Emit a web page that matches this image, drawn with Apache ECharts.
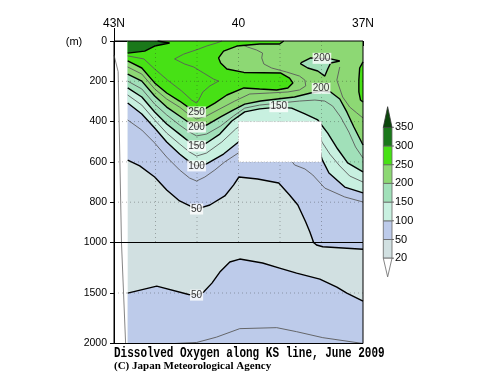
<!DOCTYPE html>
<html><head><meta charset="utf-8">
<script src="https://cdn.jsdelivr.net/npm/echarts@6/dist/echarts.min.js"></script>
<style>html,body{margin:0;padding:0;background:#fff}#c{width:500px;height:387px}</style>
</head><body><div id="c"></div>
<script>
// ---------- axes ----------
const latTicks = [43, 42, 41, 40, 39, 38, 37];
const latLabels = {43: '43N', 40: '40', 37: '37N'};
const depthGridUpper = [200, 400, 600, 800];
const depthGridLower = [1500];
const westLat = 42.67;          // western edge of observed section
const gapLat = [40, 38];        // missing-data box
const gapDepth = [400, 600];

// ---------- contour lines [lat, depth m] ----------
const c300 = [[41.95,0],[41.66,10],[42.02,25],[42.26,50],[42.67,60]];
const c275 = [[40.40,0],[40.53,10],[40.77,25],[40.96,40],[41.32,65],[41.54,89],[41.30,114],[41.08,129],[40.84,159],[40.60,189],[40.48,199],[40.69,223],[40.86,253],[40.96,293],[41.01,308],[41.13,293],[41.37,248],[41.71,194],[42.02,139],[42.28,89],[42.67,74]];
const c250 = [[38.91,0],[39.01,15],[39.49,15],[40.04,25],[40.36,50],[40.48,84],[40.43,109],[40.28,139],[39.87,156],[38.98,159],[38.77,184],[38.69,208],[38.81,233],[39.08,243],[39.49,238],[39.87,233],[40.28,268],[40.57,308],[40.81,337],[41.01,352],[41.18,333],[41.42,298],[41.73,258],[42.02,208],[42.33,134],[42.67,99]];
const c250East = [[37.00,104],[37.08,134],[37.10,194],[37.10,253],[37.06,293],[37.00,303]];
const c225 = [[42.67,129],[42.33,164],[42.02,238],[41.73,288],[41.42,328],[41.18,367],[41.01,387],[40.77,372],[40.45,337],[40.09,298],[39.73,263],[39.25,258],[38.81,253],[38.53,243],[38.38,223],[38.40,194],[38.53,174],[38.84,154],[39.20,134],[39.39,114],[39.44,84],[39.42,60],[39.56,45],[39.78,30],[39.90,20]];
const c225East = [[37.56,129],[37.63,194],[37.49,278],[37.32,328],[37.15,357],[37.00,382]];
const c200 = [[42.67,164],[42.33,199],[42.02,273],[41.73,328],[41.42,372],[41.18,407],[41.01,427],[40.77,417],[40.43,377],[40.12,342],[39.85,313],[39.47,298],[39.06,288],[38.65,278],[38.26,258],[38.01,248],[37.78,253],[37.56,288],[37.39,352],[37.22,427],[37.00,516]];
const c200Island = [[38.50,109],[38.26,84],[37.78,89],[37.56,99],[37.78,109],[37.85,139],[37.92,174],[38.09,149],[38.33,134],[38.50,114],[38.50,109]];
const c175 = [[42.67,199],[42.33,238],[42.02,313],[41.73,367],[41.42,417],[41.18,452],[41.01,471],[40.77,462],[40.43,422],[40.12,372],[39.85,333],[39.49,318],[39.01,308],[38.53,298],[38.16,293],[37.92,298],[37.73,323],[37.54,377],[37.34,452],[37.18,526],[37.00,581]];
const c150 = [[42.67,233],[42.33,278],[42.02,352],[41.73,412],[41.42,462],[41.18,501],[41.01,521],[40.77,506],[40.45,462],[40.16,397],[39.85,352],[39.49,337],[39.03,328],[38.72,333],[38.40,362],[38.09,392],[37.85,457],[37.61,536],[37.37,605],[37.00,650]];
const c125 = [[42.67,268],[42.33,318],[42.02,392],[41.73,457],[41.42,511],[41.18,551],[41.01,571],[40.77,556],[40.40,501],[40.07,437],[39.97,422],[38.09,422],[37.99,501],[37.80,561],[37.56,620],[37.32,670],[37.00,700]];
const c100 = [[42.67,308],[42.33,362],[42.02,432],[41.73,501],[41.42,561],[41.18,600],[41.01,620],[40.77,610],[40.36,561],[40.09,516],[39.97,496],[38.09,496],[37.99,586],[37.82,655],[37.44,725],[37.00,754]];
const c75 = [[42.67,392],[42.33,442],[42.02,506],[41.73,576],[41.42,640],[41.18,680],[41.01,695],[40.81,675],[40.57,640],[40.33,600],[39.97,551],[38.77,581],[38.65,615],[38.40,635],[38.21,665],[37.92,730],[37.44,774],[37.00,799]];
const c50 = [[42.67,591],[42.38,620],[42.02,675],[41.73,739],[41.42,794],[41.01,834],[40.69,814],[40.33,769],[40.12,715],[39.99,675],[39.54,685],[39.03,705],[38.77,764],[38.57,814],[38.38,898],[38.28,948],[38.19,1000],[38.12,1025],[37.97,1042],[37.00,1067]];
const c50Deep = [[42.67,1501],[41.97,1432],[41.20,1515],[41.01,1521],[40.84,1491],[40.64,1402],[40.45,1293],[40.21,1193],[39.97,1164],[39.42,1203],[39.01,1253],[38.60,1303],[38.04,1362],[37.63,1441],[37.39,1501],[37.00,1580]];
const c75Deep = [[41.54,2000],[41.01,1990],[40.53,1937],[39.97,1853],[39.08,1843],[38.60,1883],[37.97,1942],[37.00,2000]];
const bottomLine = [[43.00,70],[42.90,152],[42.82,1000],[42.72,2000]];

// contour labels [lat, depth, text]
const labelsUpper = [[41.01,352,'250'],[41.01,427,'200'],[41.01,521,'150'],[41.01,620,'100'],[41.01,834,'50'],[37.99,86,'200'],[38.01,235,'200'],[39.03,326,'150']];
const labelsLower = [[41.01,1521,'50']];

// colour bar
const cbLevels = [20, 50, 100, 150, 200, 250, 300, 350];
const cbColors = ['#d1e0e1', '#bdcbea', '#c8f0e0', '#a1e0b9', '#8dd874', '#47e115', '#1a781a'];
const cbOver = '#0b470b';

// ---------- helpers ----------
const BOTH = [0, 1];
function poly(pts, fill, grids, z) {
  return grids.map(g => ({
    type: 'custom', coordinateSystem: 'cartesian2d', xAxisIndex: g, yAxisIndex: g,
    silent: true, clip: true, z: z || 1, animation: false, data: [pts[0]],
    renderItem: (p, api) => ({type: 'polygon', shape: {points: pts.map(q => api.coord(q))}, style: {fill: fill}})
  }));
}
function line(pts, color, width, grids, z, dash) {
  return grids.map(g => ({
    type: 'line', xAxisIndex: g, yAxisIndex: g, data: pts, symbol: 'none', silent: true,
    z: z, clip: true, animation: false,
    lineStyle: {color: color, width: width, type: dash || 'solid'}
  }));
}
const rev = a => a.slice().reverse();

const series = [];
// fills
series.push(...poly([[westLat,0],[37,0],[37,2000],[westLat,2000]], cbColors[0], BOTH));
series.push(...poly([[westLat,0],[37,0], ...rev(c50)], cbColors[1], BOTH));
series.push(...poly([...c50Deep,[37,2000],[westLat,2000]], cbColors[1], [1]));
series.push(...poly([[westLat,0],[37,0], ...rev(c100)], cbColors[2], [0]));
series.push(...poly([[westLat,0],[37,0], ...rev(c150)], cbColors[3], [0]));
series.push(...poly([[westLat,0],[37,0], ...rev(c200)], cbColors[4], [0]));
series.push(...poly(c200Island, cbColors[3], [0]));
series.push(...poly([[westLat,0], ...c250], cbColors[5], [0]));
series.push(...poly(c250East, cbColors[5], [0]));
series.push(...poly([[westLat,0], ...c300], cbColors[6], [0]));

// thin contours
const THIN = '#5a5a5a';
[c275, c225, c225East, c175, c125, c75].forEach(c => series.push(...line(c, THIN, 0.9, [0], 2)));
series.push(...line(c75Deep, THIN, 0.9, [1], 2));
series.push(...line(bottomLine, '#777', 0.9, BOTH, 2));
// thick contours
[c300, c250, c250East, c200, c200Island, c150, c100].forEach(c => series.push(...line(c, '#000', 1.4, [0], 3)));
series.push(...line(c50, '#000', 1.4, BOTH, 3));
series.push(...line(c50Deep, '#000', 1.4, [1], 3));

// dotted grid
const DOT = 'rgba(40,40,40,0.35)';
latTicks.slice(1, -1).forEach(l => series.push(...line([[l,0],[l,1000]], DOT, 1, [0], 4, [1, 3])));
depthGridUpper.forEach(d => series.push(...line([[43,d],[37,d]], DOT, 1, [0], 4, [1, 3])));
depthGridLower.forEach(d => series.push(...line([[43,d],[37,d]], DOT, 1, [1], 4, [1, 3])));

// missing-data box
series.push({
  type: 'custom', coordinateSystem: 'cartesian2d', xAxisIndex: 0, yAxisIndex: 0, silent: true, z: 5,
  animation: false, data: [[gapLat[0], gapDepth[0]]],
  renderItem: (p, api) => {
    const a = api.coord([gapLat[0], gapDepth[0]]), b = api.coord([gapLat[1], gapDepth[1]]);
    return {type: 'rect', shape: {x: a[0], y: a[1], width: b[0] - a[0], height: b[1] - a[1]},
      style: {fill: '#fff', stroke: '#bbb', lineWidth: 1, lineDash: [1, 2]}};
  }
});

// labels
function labels(arr, g) {
  return {
    type: 'scatter', xAxisIndex: g, yAxisIndex: g, data: arr, symbolSize: 1, silent: true, z: 6,
    animation: false, itemStyle: {color: 'transparent'},
    label: {show: true, position: 'inside', formatter: p => p.data[2], fontSize: 10,
      fontFamily: 'Liberation Sans', color: '#000', backgroundColor: '#fff', padding: [1, 1, 0, 1]}
  };
}
series.push(labels(labelsUpper, 0), labels(labelsLower, 1));

// frames
[[0, 0, 1000], [1, 1000, 2000]].forEach(([g, d0, d1]) => series.push({
  type: 'custom', coordinateSystem: 'cartesian2d', xAxisIndex: g, yAxisIndex: g, silent: true, z: 7,
  animation: false, data: [[43, d0]],
  renderItem: (p, api) => {
    const a = api.coord([43, d0]), b = api.coord([37, d1]);
    return {type: 'rect', shape: {x: a[0], y: a[1], width: b[0] - a[0], height: b[1] - a[1]},
      style: {fill: null, stroke: '#000', lineWidth: 1}};
  }
}));

// ---------- graphic: colour bar, titles ----------
const CB = {x: 383.3, w: 8.7, top: 127.3, h: 18.7};
const graphic = [];
const nB = cbColors.length;
cbColors.forEach((col, i) => {
  graphic.push({type: 'rect', shape: {x: CB.x, y: CB.top + (nB - 1 - i) * CB.h, width: CB.w, height: CB.h},
    style: {fill: col, stroke: '#666', lineWidth: 0.8}});
});
graphic.push({type: 'polygon', shape: {points: [[CB.x, CB.top], [CB.x + CB.w, CB.top], [CB.x + CB.w / 2, CB.top - 20.6]]},
  style: {fill: cbOver, stroke: '#333', lineWidth: 0.8}});
graphic.push({type: 'polygon', shape: {points: [[CB.x, CB.top + nB * CB.h], [CB.x + CB.w, CB.top + nB * CB.h], [CB.x + CB.w / 2, CB.top + nB * CB.h + 18.7]]},
  style: {fill: '#fff', stroke: '#666', lineWidth: 0.8}});
cbLevels.forEach((lv, j) => {
  const y = CB.top + nB * CB.h - j * CB.h;
  graphic.push({type: 'line', shape: {x1: CB.x + CB.w, y1: y, x2: CB.x + CB.w + 2, y2: y}, style: {stroke: '#444', lineWidth: 0.8}});
  graphic.push({type: 'text', x: 395, y: y,
    style: {text: String(lv), fill: '#000', font: '11px "Liberation Sans"', align: 'left', verticalAlign: 'middle', textAlign: 'left', textVerticalAlign: 'middle'}});
});
graphic.push({type: 'text', x: 74, y: 42,
  style: {text: '(m)', fill: '#000', font: '11px "Liberation Sans"', align: 'center', verticalAlign: 'middle', textAlign: 'center', textVerticalAlign: 'middle'}});
graphic.push({type: 'line', shape: {x1: 114.5, y1: 28, x2: 114.5, y2: 41}, style: {stroke: '#000', lineWidth: 1}});
graphic.push({type: 'text', x: 114, y: 353, scaleY: 1.3,
  style: {text: 'Dissolved Oxygen along KS line, June 2009', fill: '#000', font: 'bold 11px "Liberation Mono"', align: 'left', verticalAlign: 'middle', textAlign: 'left', textVerticalAlign: 'middle'}});
graphic.push({type: 'text', x: 114, y: 366,
  style: {text: '(C) Japan Meteorological Agency', fill: '#000', font: 'bold 11px "Liberation Serif"', align: 'left', verticalAlign: 'middle', textAlign: 'left', textVerticalAlign: 'middle'}});

const yLab = {fontSize: 10.5, color: '#000', margin: 7, fontFamily: 'Liberation Sans', formatter: v => String(v)};
const option = {
  animation: false,
  backgroundColor: '#fff',
  grid: [
    {left: 114, top: 41, width: 249, height: 201.5, show: false},
    {left: 114, top: 242.5, width: 249, height: 101, show: false}
  ],
  xAxis: [
    {gridIndex: 0, type: 'value', min: 37, max: 43, interval: 1, inverse: true, position: 'top', offset: 13,
      axisLine: {show: true, lineStyle: {color: '#000', width: 1}},
      axisTick: {show: true, inside: true, length: 5, lineStyle: {color: '#000'}},
      minorTick: {show: true, splitNumber: 3, length: 5, lineStyle: {color: '#000'}},
      axisLabel: {formatter: v => latLabels[v] || '', fontSize: 12, margin: -2, color: '#000', fontFamily: 'Liberation Sans'},
      splitLine: {show: false}},
    {gridIndex: 1, type: 'value', min: 37, max: 43, inverse: true, show: false}
  ],
  yAxis: [
    {gridIndex: 0, type: 'value', min: 0, max: 1000, interval: 200, inverse: true,
      axisLine: {show: true, lineStyle: {color: '#000'}},
      axisTick: {show: true, length: 4, lineStyle: {color: '#000'}},
      axisLabel: yLab, splitLine: {show: false}},
    {gridIndex: 1, type: 'value', min: 1000, max: 2000, interval: 500, inverse: true,
      axisLine: {show: true, lineStyle: {color: '#000'}},
      axisTick: {show: true, length: 4, lineStyle: {color: '#000'}},
      axisLabel: Object.assign({}, yLab, {formatter: v => v === 1000 ? '' : String(v)}),
      splitLine: {show: false}}
  ],
  graphic: graphic,
  series: series
};
const chart = echarts.init(document.getElementById('c'));
chart.setOption(option);
</script></body></html>
